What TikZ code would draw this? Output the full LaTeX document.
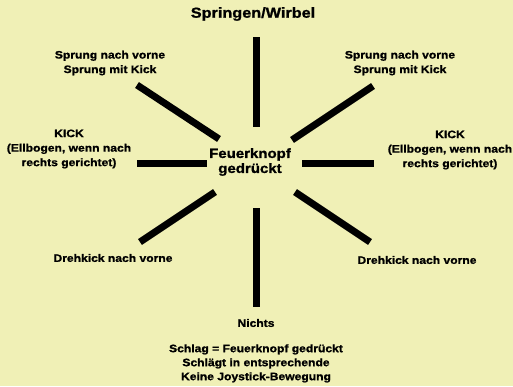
\documentclass[tikz,border=0pt]{standalone}
\usepackage{fontspec}
\setmainfont{Liberation Sans}[FakeStretch=1.12, BoldFeatures={FakeBold=1.2}]
\usetikzlibrary{positioning}
\definecolor{paper}{RGB}{240,240,182}

\begin{document}
\begin{tikzpicture}[
  x=1pt, y=-1pt,
  lbl/.style={align=center, font=\bfseries\fontsize{10.8}{14.5}\selectfont, inner sep=1pt},
  hub/.style={align=center, font=\bfseries\fontsize{13.4}{15}\selectfont, inner sep=1pt},
  spoke/.style={line width=7pt, black}
]
  \fill[paper] (0,0) rectangle (513,386);
  \useasboundingbox (0,0) rectangle (513,386);

  \node[hub] (fire) at (250,162) {Feuerknopf\\gedrückt};

  \node[lbl, font=\bfseries\fontsize{14.5}{16}\selectfont] (up) at (253,14) {Springen/Wirbel};
  \node[lbl] (upleft) at (110,63) {Sprung nach vorne\\Sprung mit Kick};
  \node[lbl] (upright) at (400,63) {Sprung nach vorne\\Sprung mit Kick};
  \node[lbl] (left) at (69,149) {KICK\\(Ellbogen, wenn nach\\rechts gerichtet)};
  \node[lbl] (right) at (450,150) {KICK\\(Ellbogen, wenn nach\\rechts gerichtet)};
  \node[lbl] (downleft) at (113,258) {Drehkick nach vorne};
  \node[lbl] (downright) at (417,260) {Drehkick nach vorne};
  \node[lbl] (down) at (256,323) {Nichts};
  \node[lbl, font=\bfseries\fontsize{10.8}{14}\selectfont, below=15pt of down] (note) {Schlag = Feuerknopf gedrückt\\Schlägt in entsprechende\\Keine Joystick-Bewegung};

  % spoke ends
  \foreach \name/\px/\py in {n1/256/37, n2/256/127, nw1/137/85, nw2/219/139,
      w1/137/163, w2/207/163, ne1/373/86, ne2/292/140,
      e1/302/163, e2/374/163, sw1/215/192, sw2/140/242,
      se1/295/192, se2/370/242, s1/256/208, s2/256/307}
    \coordinate (\name) at (\px,\py);

  \foreach \a/\b in {n1/n2, nw1/nw2, w1/w2, ne1/ne2, e1/e2, sw1/sw2, se1/se2, s1/s2}
    \draw[spoke] (\a) -- (\b);
\end{tikzpicture}
\end{document}
